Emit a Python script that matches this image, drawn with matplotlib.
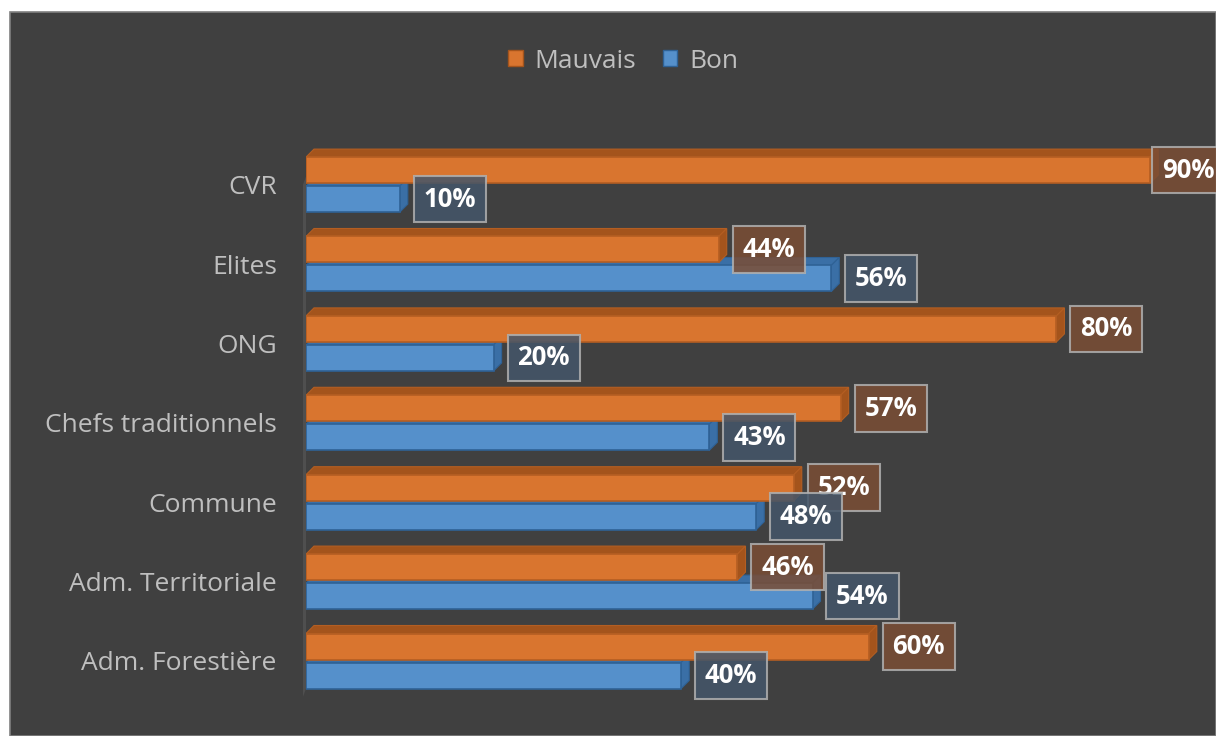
import matplotlib
matplotlib.use("Agg")
import matplotlib.pyplot as plt
from matplotlib.patches import Polygon, Rectangle, Patch

categories = ["Adm. Forestière", "Adm. Territoriale", "Commune",
              "Chefs traditionnels", "ONG", "Elites", "CVR"]
mauvais = [60, 46, 52, 57, 80, 44, 90]
bon = [40, 54, 48, 43, 20, 56, 10]

W, H = 1216, 736
fig = plt.figure(figsize=(W / 100, H / 100), dpi=100)
fig.patch.set_facecolor("white")
# dark chart area
fig.patches.append(Rectangle((10 / W, 0), 1 - 10 / W, 1 - 12 / H, transform=fig.transFigure,
                             facecolor="#404040", edgecolor="#808080", linewidth=1.2, zorder=-5))

ax_left, ax_right = 306, 1216
ax_top, ax_bot = 140, 736
ax = fig.add_axes([ax_left / W, 1 - ax_bot / H, (ax_right - ax_left) / W, (ax_bot - ax_top) / H])
ax.set_facecolor("none")

pxx = 9.38  # px per percent
pyy = 79.4  # px per category
xmax = (ax_right - ax_left) / pxx
y0 = 661
ax.set_xlim(0, xmax)
ax.set_ylim(-(ax_bot - y0) / pyy, (y0 - ax_top) / pyy)
for s in ax.spines.values():
    s.set_visible(False)
ax.set_xticks([])
ax.set_yticks(range(len(categories)))
ax.set_yticklabels(categories, fontsize=19, color="#bfbfbf", family="Open Sans")
ax.tick_params(axis="y", length=0, pad=21)

h = 26 / pyy
off = 14.5 / pyy
dx = 8 / pxx
dy = 8 / pyy

# back wall
wall = Polygon([(-3 / pxx, -0.45), (-3 / pxx, 6.0), (0, 6.0 + dy), (0, -0.45 + dy)],
               closed=True, facecolor="#4f4f4f", edgecolor="none", zorder=1, clip_on=False)
ax.add_patch(wall)

series = [
    (bon, -off, "#5590cb", "#3a6fa6", "#2f6296", "#44566a", 2),
    (mauvais, +off, "#d9752f", "#a4541c", "#b45e22", "#7a4d35", 4),
]

for vals, yo, front, topc, edge, boxc, z in series:
    for i, v in enumerate(vals):
        yc = i + yo
        b, t = yc - h / 2, yc + h / 2
        ax.add_patch(Polygon([(0, t), (v, t), (v + dx, t + dy), (dx, t + dy)], closed=True,
                             facecolor=topc, edgecolor=edge, linewidth=0.8, zorder=z))
        ax.add_patch(Polygon([(v, b), (v, t), (v + dx, t + dy), (v + dx, b + dy)], closed=True,
                             facecolor=topc, edgecolor=edge, linewidth=0.8, zorder=z))
        ax.barh(yc, v, height=h, color=front, edgecolor=edge, linewidth=1.2, zorder=z + 1)

for vals, yo, front, topc, edge, boxc, z in series[::-1]:
    for i, v in enumerate(vals):
        yc = i + yo
        xoff = 50
        if v >= 88:
            xoff = 38
        ax.annotate(f"{v}%", xy=(v, yc), xytext=(xoff * 0.72, 0), textcoords="offset points",
                    ha="center", va="center", fontsize=18.5, fontweight="bold", color="white",
                    family="Open Sans", zorder=10, annotation_clip=False,
                    bbox=dict(boxstyle="square,pad=0.38", facecolor=boxc, alpha=0.85,
                              edgecolor="#b0b0b0", linewidth=1.5))

handles = [Patch(facecolor="#d9752f", edgecolor="#a4541c"),
           Patch(facecolor="#5590cb", edgecolor="#2f6296")]
fig.legend(handles, ["Mauvais", "Bon"], loc="center", bbox_to_anchor=(623 / W, 1 - 61 / H),
           ncol=2, frameon=False, labelcolor="#bfbfbf", handlelength=0.55,
           handleheight=0.55, handletextpad=0.45, columnspacing=1.0, prop={"family": "Open Sans", "size": 19})

fig.savefig("out.png", dpi=100, facecolor=fig.get_facecolor())
